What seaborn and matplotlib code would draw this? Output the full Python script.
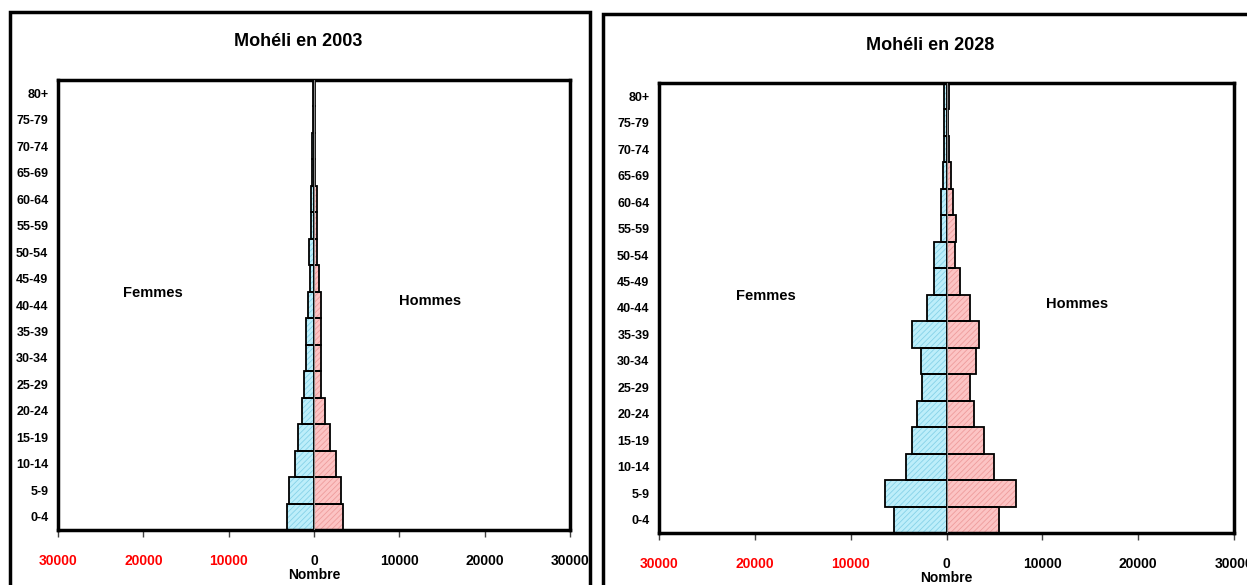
import matplotlib
matplotlib.use("Agg")
import matplotlib.pyplot as plt
import matplotlib.patches as mpatches
from matplotlib import font_manager
import seaborn as sns
import pandas as pd

# age groups, youngest first
ages = ["0-4", "5-9", "10-14", "15-19", "20-24", "25-29", "30-34", "35-39",
        "40-44", "45-49", "50-54", "55-59", "60-64", "65-69", "70-74", "75-79", "80+"]

femmes_2003 = [3200, 2970, 2220, 1910, 1400, 1130, 940, 980,
               740, 510, 550, 350, 390, 200, 220, 170, 150]
hommes_2003 = [3360, 3160, 2540, 1910, 1330, 860, 860, 860,
               780, 550, 390, 350, 350, 160, 130, 120, 100]

femmes_2028 = [5430, 6400, 4210, 3620, 3100, 2580, 2680, 3620,
               2020, 1290, 1290, 590, 560, 350, 240, 240, 310]
hommes_2028 = [5430, 7200, 4980, 3930, 2920, 2470, 3060, 3410,
               2470, 1460, 900, 970, 630, 450, 210, 200, 280]

xticks = [-30000, -20000, -10000, 0, 10000, 20000, 30000]
order = ages[::-1]

sns.set_theme(style="white")
plt.rcParams['font.family'] = ['Liberation Sans', 'DejaVu Sans']
plt.rcParams['text.color'] = 'black'
plt.rcParams['xtick.color'] = 'black'
plt.rcParams['ytick.color'] = 'black'
plt.rcParams['axes.labelcolor'] = 'black'
plt.rcParams['hatch.linewidth'] = 0.6

names = sorted({f.name for f in font_manager.fontManager.ttflist})
print([n for n in names if 'Narrow' in n or 'Condensed' in n or 'Liberation' in n or 'DejaVu' in n])
print([(f.name, f.stretch, f.weight) for f in font_manager.fontManager.ttflist if 'DejaVu Sans' == f.name])

W, H = 1247, 585
fig = plt.figure(figsize=(W / 100, H / 100), dpi=100)


def px_axes(x0, x1, y0, y1):
    return fig.add_axes([x0 / W, 1 - y1 / H, (x1 - x0) / W, (y1 - y0) / H])


def pyramid(ax, fem, hom, title, title_xy):
    df = pd.DataFrame({"age": ages, "f": [-v for v in fem], "h": hom})
    sns.barplot(data=df, x="f", y="age", order=order, color="#bdeefa",
                width=1.0, saturation=1, errorbar=None, ax=ax)
    n_f = len(ax.patches)
    sns.barplot(data=df, x="h", y="age", order=order, color="#fcc4c4",
                width=1.0, saturation=1, errorbar=None, ax=ax)
    bars = list(ax.patches)
    for i, p in enumerate(bars):
        p.set_hatch("//////")
        p.set_edgecolor("#86d2e8" if i < n_f else "#ee9c9c")
        p.set_linewidth(0)
        ax.add_patch(mpatches.Rectangle(p.get_xy(), p.get_width(), p.get_height(),
                                        fill=False, edgecolor="black", linewidth=1.3,
                                        zorder=3))
    ax.axvline(0, color="#888888", lw=0.8, zorder=4)
    ax.set_xlim(-30000, 30000)
    ax.set_ylim(len(ages) - 0.5, -0.5)
    ax.set_xticks(xticks)
    ax.set_xticklabels([str(abs(t)) for t in xticks], fontsize=10, fontweight="bold",
                       fontstretch="condensed")
    for t, lab in zip(xticks, ax.get_xticklabels()):
        lab.set_color("red" if t < 0 else "black")
    ax.tick_params(axis="x", bottom=True, length=5, width=1, color="#444444", pad=12,
                   direction="out")
    ax.tick_params(axis="y", length=0, pad=7)
    for lab in ax.get_yticklabels():
        lab.set_fontweight("bold")
        lab.set_fontsize(9)
        lab.set_fontstretch("condensed")
    ax.set_ylabel("")
    ax.set_xlabel("Nombre", fontsize=10, fontweight="bold", labelpad=0)
    for s in ax.spines.values():
        s.set_visible(True)
        s.set_color("black")
        s.set_linewidth(2.5)
    ax.text(0.186, 0.527, "Femmes", transform=ax.transAxes, fontsize=10.5,
            fontweight="bold", ha="center", va="center")
    ax.text(0.727, 0.509, "Hommes", transform=ax.transAxes, fontsize=10.5,
            fontweight="bold", ha="center", va="center")
    fig.text(title_xy[0] / W, 1 - title_xy[1] / H, title, fontsize=13,
             fontweight="bold", ha="center", va="center")


ax1 = px_axes(58, 570, 80, 530)
pyramid(ax1, femmes_2003, hommes_2003, "Mohéli en 2003", (298, 42))

ax2 = px_axes(659, 1234, 83, 533)
pyramid(ax2, femmes_2028, hommes_2028, "Mohéli en 2028", (930, 45))

# outer frames around each panel
for x0, x1, y0 in [(10, 590, 12), (603, 1260, 14)]:
    fig.add_artist(mpatches.Rectangle((x0 / W, -0.05), (x1 - x0) / W, 1.05 - y0 / H,
                                      transform=fig.transFigure, fill=False,
                                      edgecolor="black", linewidth=2.5))

fig.savefig("out.png", dpi=100)
